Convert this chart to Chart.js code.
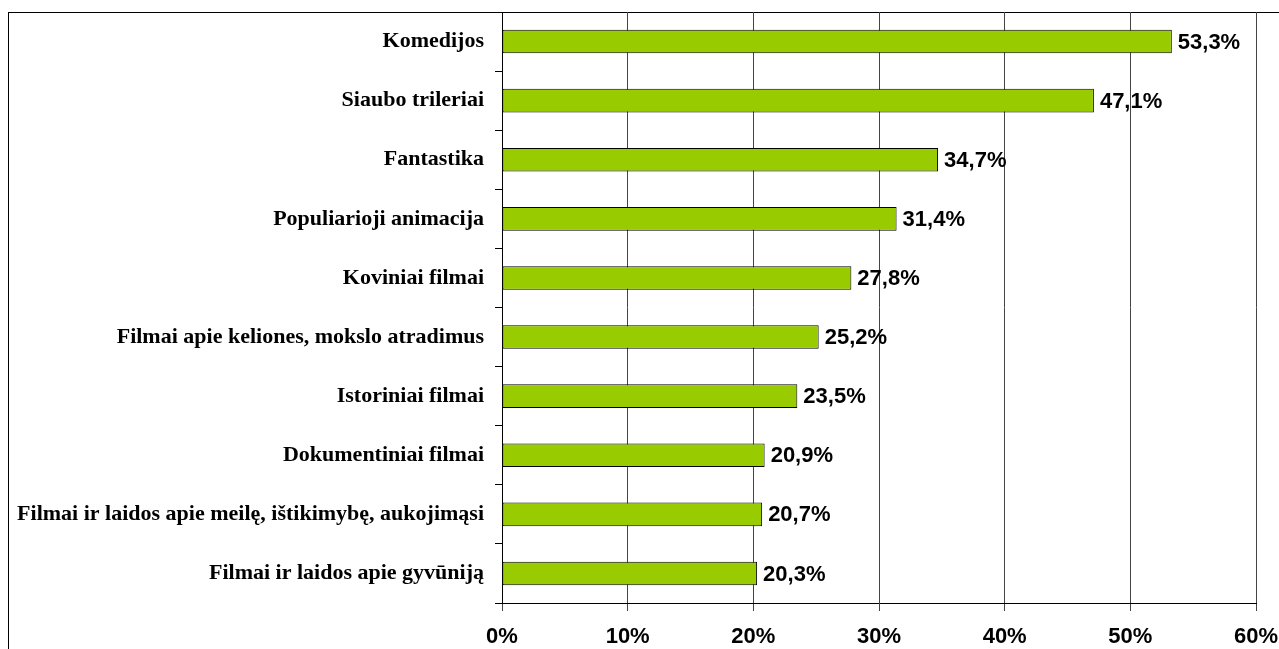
<!DOCTYPE html>
<html>
<head>
<meta charset="utf-8">
<script src="https://cdn.jsdelivr.net/npm/chart.js@4/dist/chart.umd.min.js"></script>
<style>
  html, body { margin: 0; padding: 0; background: #fff; }
  .frame { position: absolute; left: 8px; top: 12px; width: 1400px; height: 800px;
           border-left: 1px solid #000; border-top: 1px solid #000; }
  .wrap { position: absolute; left: 0; top: 0; width: 1279px; height: 649px; }
</style>
</head>
<body>
<div class="frame"></div>
<div class="wrap"><canvas id="genreChart"></canvas></div>
<script>
const categories = [
  'Komedijos',
  'Siaubo trileriai',
  'Fantastika',
  'Populiarioji animacija',
  'Koviniai filmai',
  'Filmai apie keliones, mokslo atradimus',
  'Istoriniai filmai',
  'Dokumentiniai filmai',
  'Filmai ir laidos apie meilę, ištikimybę, aukojimąsi',
  'Filmai ir laidos apie gyvūniją',
]
const shares = [53.3, 47.1, 34.7, 31.4, 27.8, 25.2, 23.5, 20.9, 20.7, 20.3]
const xTicks = [0, 10, 20, 30, 40, 50, 60]

const SANS = "'Liberation Sans', Arial, sans-serif"
const SERIF = "'Liberation Serif', 'Times New Roman', serif"

// value labels to the right of each bar
const barLabels = {
  id: 'barLabels',
  afterDatasetsDraw(chart) {
    const ctx = chart.ctx
    const meta = chart.getDatasetMeta(0)
    ctx.save()
    ctx.font = 'bold 22px ' + SANS
    ctx.fillStyle = '#000'
    ctx.textAlign = 'left'
    ctx.textBaseline = 'middle'
    meta.data.forEach((bar, i) => {
      const txt = shares[i].toFixed(1).replace('.', ',') + '%'
      ctx.fillText(txt, bar.x + 6, bar.y + 1)
    })
    ctx.restore()
  },
}

new Chart(document.getElementById('genreChart'), {
  type: 'bar',
  data: {
    labels: categories,
    datasets: [{
      data: shares,
      backgroundColor: '#99CC00',
      borderColor: '#000',
      borderWidth: 1,
      borderSkipped: false,
      barPercentage: 0.4,
      categoryPercentage: 1,
    }],
  },
  options: {
    indexAxis: 'y',
    responsive: true, maintainAspectRatio: false,
    animation: false,
    layout: { padding: { top: 12, right: 23, left: 0, bottom: 0 } },
    plugins: { legend: { display: false }, tooltip: { enabled: false } },
    scales: {
      x: {
        min: 0, max: 60,
        afterFit: s => { s.height = 46; s.paddingLeft = 0; s.paddingRight = 0 },
        afterBuildTicks: s => { s.ticks = xTicks.map(v => ({ value: v })) },
        grid: { color: '#444', lineWidth: 1, tickLength: 8 },
        border: { color: '#000', width: 1 },
        ticks: {
          color: '#000', padding: 13, maxRotation: 0,
          font: { family: SANS, size: 22, weight: 'bold' },
          callback: v => v + '%',
        },
      },
      y: {
        afterFit: s => { s.width = 502; s.paddingTop = 0; s.paddingBottom = 0 },
        grid: { offset: true, drawOnChartArea: false, drawTicks: true, tickLength: 7, color: '#000' },
        border: { color: '#000', width: 1 },
        ticks: {
          color: '#000', padding: 11, autoSkip: false,
          font: { family: SERIF, size: 22, weight: 'bold' },
        },
      },
    },
  },
  plugins: [barLabels],
})
</script>
</body>
</html>
